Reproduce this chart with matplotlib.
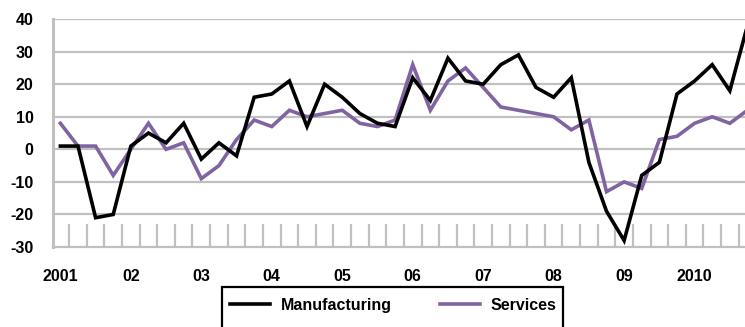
import numpy as np
import matplotlib.pyplot as plt
from matplotlib.patches import Rectangle

plt.rcParams['font.family'] = ['Liberation Sans', 'DejaVu Sans']

# quarterly balances, 2001 Q1 .. 2010 Q4
manufacturing = [1, 1, -21, -20, 1, 5, 2, 8, -3, 2, -2, 16,
                 17, 21, 7, 20, 16, 11, 8, 7, 22, 15, 28, 21,
                 20, 26, 29, 19, 16, 22, -4, -19, -28, -8, -4, 17,
                 21, 26, 18, 38]
services = [8, 1, 1, -8, 0, 8, 0, 2, -9, -5, 3, 9,
            7, 12, 10, 11, 12, 8, 7, 9, 26, 12, 21, 25,
            19, 13, 12, 11, 10, 6, 9, -13, -10, -12, 3, 4,
            8, 10, 8, 12]
year_labels = ['2001', '02', '03', '04', '05', '06', '07', '08', '09', '2010']
yticks = [-30, -20, -10, 0, 10, 20, 30, 40]

x = np.arange(len(manufacturing))

fig = plt.figure(figsize=(7.45, 3.27), dpi=100)
ax = fig.add_axes([0.0711, 0.2446, 0.944, 0.697])

grid_col = '#c0c0c0'
for y in yticks[1:]:
    ax.axhline(y, color=grid_col, lw=1.6, zorder=0)

# quarter separators along the bottom
ax.vlines(x[:-1] + 0.5, -30, -23, color=grid_col, lw=1.6, zorder=0)

ax.plot(x, manufacturing, color='black', lw=2.6, label='Manufacturing',
        solid_joinstyle='miter', zorder=3)
ax.plot(x, services, color='#8064a2', lw=2.6, label='Services',
        solid_joinstyle='miter', zorder=2)

ax.set_xlim(-0.42, 39.5)
ax.set_ylim(-30, 40)

for s in ['top', 'right']:
    ax.spines[s].set_visible(False)
ax.spines['left'].set_color(grid_col)
ax.spines['left'].set_linewidth(2.2)
ax.spines['bottom'].set_color(grid_col)
ax.spines['bottom'].set_linewidth(1.6)

ax.set_yticks(yticks)
ax.set_yticklabels([str(v) for v in yticks], fontsize=11.5, fontweight='bold')
ax.tick_params(axis='y', length=0, pad=14)
ax.set_xticks(x[::4])
ax.set_xticklabels(year_labels, fontsize=11.5, fontweight='bold')
ax.tick_params(axis='x', length=0, pad=15.5)

# legend box (bottom edge runs off the figure)
fig.patches.append(Rectangle((0.298, -0.05), 0.458, 0.172, transform=fig.transFigure,
                             fill=False, edgecolor='black', lw=1.6))
fig.legend(loc='center', bbox_to_anchor=(0.528, 0.067), ncol=2, frameon=False,
           prop={'size': 11.5, 'weight': 'bold'}, handlelength=2.5,
           handletextpad=0.7, columnspacing=3.0)

fig.savefig('out.png', dpi=100)
